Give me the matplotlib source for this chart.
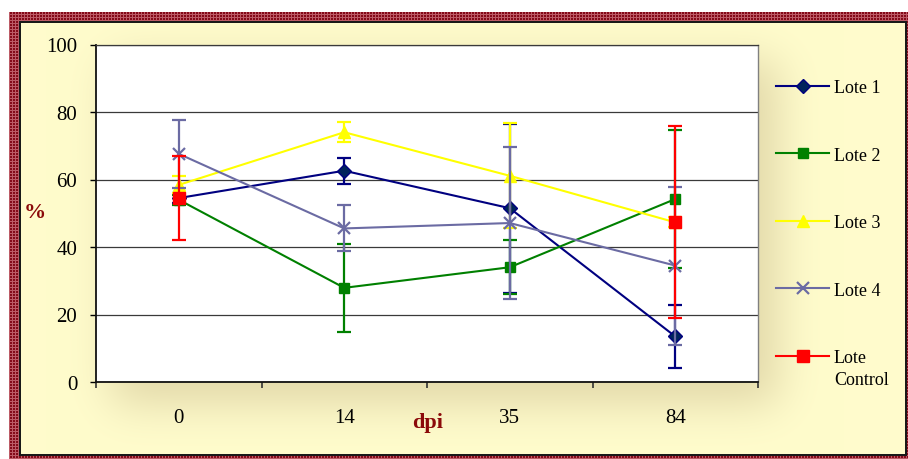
import numpy as np
import matplotlib
matplotlib.use("Agg")
import matplotlib.pyplot as plt

# ---- data -------------------------------------------------------------
categories = ["0", "14", "35", "84"]

lote1 = [54.5, 62.6, 51.5, 13.5]
lote1_err = [1.5, 3.8, 25.0, 9.4]

lote2 = [54.0, 27.9, 34.0, 54.2]
lote2_err = [1.5, 13.0, 8.0, 20.5]

lote3 = [58.4, 74.0, 61.1, 47.3]
lote3_err = [2.5, 3.0, 15.5, 1.5]

lote4 = [67.6, 45.5, 47.1, 34.5]
lote4_err = [10.0, 6.8, 22.5, 23.4]

control = [54.5, np.nan, np.nan, 47.4]
control_err = [12.5, np.nan, np.nan, 28.5]

series_labels = ["Lote 1", "Lote 2", "Lote 3", "Lote 4", "Lote"]
control_second_line = "Control"
y_ticks = [0, 20, 40, 60, 80, 100]

# ---- figure & decorated background -----------------------------------
W, H = 908, 460
fig = plt.figure(figsize=(W / 100, H / 100), dpi=100)

yy, xx = np.mgrid[0:H, 0:W]
img = np.ones((H, W, 3))

# checkered maroon frame
dark = np.array([0.52, 0.04, 0.10])
light = np.array([0.74, 0.36, 0.40])
grid = ((xx % 3) == 0) | ((yy % 3) == 0)
frame = (xx >= 9) & (yy >= 13)
img[frame & grid] = light
img[frame & ~grid] = dark

# yellow panel with a soft shadow around the plotting area
px0, py0, px1, py1 = 19, 22, 907, 457
panel_light = np.array([1.0, 0.988, 0.80])
panel_dark = np.array([0.90, 0.865, 0.68])
mask = np.zeros((H, W))
mask[62:405, 112:778] = 1.0


def blur(a, sigma):
    r = int(3 * sigma)
    k = np.exp(-0.5 * (np.arange(-r, r + 1) / sigma) ** 2)
    k /= k.sum()
    a = np.apply_along_axis(lambda v: np.convolve(v, k, mode="same"), 0, a)
    a = np.apply_along_axis(lambda v: np.convolve(v, k, mode="same"), 1, a)
    return a


shade = np.clip(blur(mask, 22) * 1.15, 0, 1)[..., None]
panel = panel_light * (1 - shade) + panel_dark * shade
inside = (xx >= px0) & (xx < px1) & (yy >= py0) & (yy < py1)
img[inside] = panel[inside]
# panel outline
edge = inside & ((xx < px0 + 2) | (xx >= px1 - 2) | (yy < py0 + 2) | (yy >= py1 - 2))
img[edge] = [0.1, 0.1, 0.1]

bg = fig.add_axes([0, 0, 1, 1], zorder=-5)
bg.imshow(img, aspect="auto", interpolation="nearest")
bg.set_axis_off()

# ---- main axes --------------------------------------------------------
ax = fig.add_axes([96 / W, 1 - 383 / H, (758 - 96) / W, (383 - 45.5) / H])
ax.set_facecolor("white")
x = np.arange(len(categories))

styles = [
    dict(data=lote1, err=lote1_err, color="#000080", marker="D", mfc="#00245C", ms=7.5),
    dict(data=lote2, err=lote2_err, color="#008000", marker="s", mfc="#008000", ms=7.5),
    dict(data=lote3, err=lote3_err, color="#FFFF00", marker="^", mfc="#FFFF00", ms=9),
    dict(data=lote4, err=lote4_err, color="#6B6BA3", marker="x", mfc="#6B6BA3", ms=8),
    dict(data=control, err=control_err, color="#FF0000", marker="s", mfc="#FF0000", ms=8),
]

handles = []
for i, s in enumerate(styles):
    z = 3 + i
    ax.errorbar(x, s["data"], yerr=s["err"], fmt="none", ecolor=s["color"],
                elinewidth=1.6, capsize=5, capthick=1.6, zorder=z)
    (ln,) = ax.plot(x, s["data"], color=s["color"], lw=1.5, marker=s["marker"],
                    ms=s["ms"], mfc=s["mfc"], mec=s["color"] if s["marker"] != "D" else "#000080",
                    mew=1.6 if s["marker"] == "x" else 1.0, zorder=z + 0.5,
                    label=series_labels[i])
    handles.append(ln)

ax.set_xlim(-0.5, len(categories) - 0.5)
ax.set_ylim(0, 100)
ax.set_yticks(y_ticks)
ax.set_xticks(x)
ax.set_xticklabels(categories)
ax.set_xticks(np.arange(-0.5, len(categories), 1.0), minor=True)

serif_name = "Liberation Serif"
ax.tick_params(axis="x", which="major", length=0, pad=19, labelsize=15,
               labelfontfamily=serif_name)
ax.tick_params(axis="x", which="minor", length=4.5, width=1.2, color="#333333",
               direction="out")
ax.tick_params(axis="y", which="major", length=4.5, width=1.0, pad=9,
               labelsize=15, labelfontfamily=serif_name, direction="out")

ax.yaxis.grid(True, color="#3a3a3a", lw=0.9, zorder=0)
ax.set_axisbelow(True)
for side in ("left", "bottom"):
    ax.spines[side].set_color("#111111")
    ax.spines[side].set_linewidth(1.3)
ax.spines["top"].set_color("#3a3a3a")
ax.spines["top"].set_linewidth(0.9)
ax.spines["right"].set_color("#808080")
ax.spines["right"].set_linewidth(1.0)

fig.text(35 / W, 1 - 213 / H, "%", ha="center", va="center", fontsize=16,
         fontweight="bold", color="#8B0A0A", family=serif_name)
fig.text(428 / W, 1 - 423 / H, "dpi", ha="center", va="center", fontsize=16,
         fontweight="bold", color="#8B0A0A", family=serif_name)

leg = ax.legend(handles=handles, labels=series_labels, loc="upper left",
                bbox_to_anchor=(776 / W, 1 - 80 / H), bbox_transform=fig.transFigure,
                frameon=False, prop={"family": serif_name, "size": 13},
                handlelength=2.95, handletextpad=0.25, labelspacing=2.8,
                borderpad=0, borderaxespad=0)

# second line of the last legend label, set just under its first line
fig.canvas.draw()
last = leg.get_texts()[-1]
bb = last.get_window_extent()
fig.text(bb.x0 / W, (bb.y0 - 21.5) / H, control_second_line, ha="left",
         va="bottom", fontsize=13, family=serif_name, color="black")

fig.savefig("out.png", dpi=100)
